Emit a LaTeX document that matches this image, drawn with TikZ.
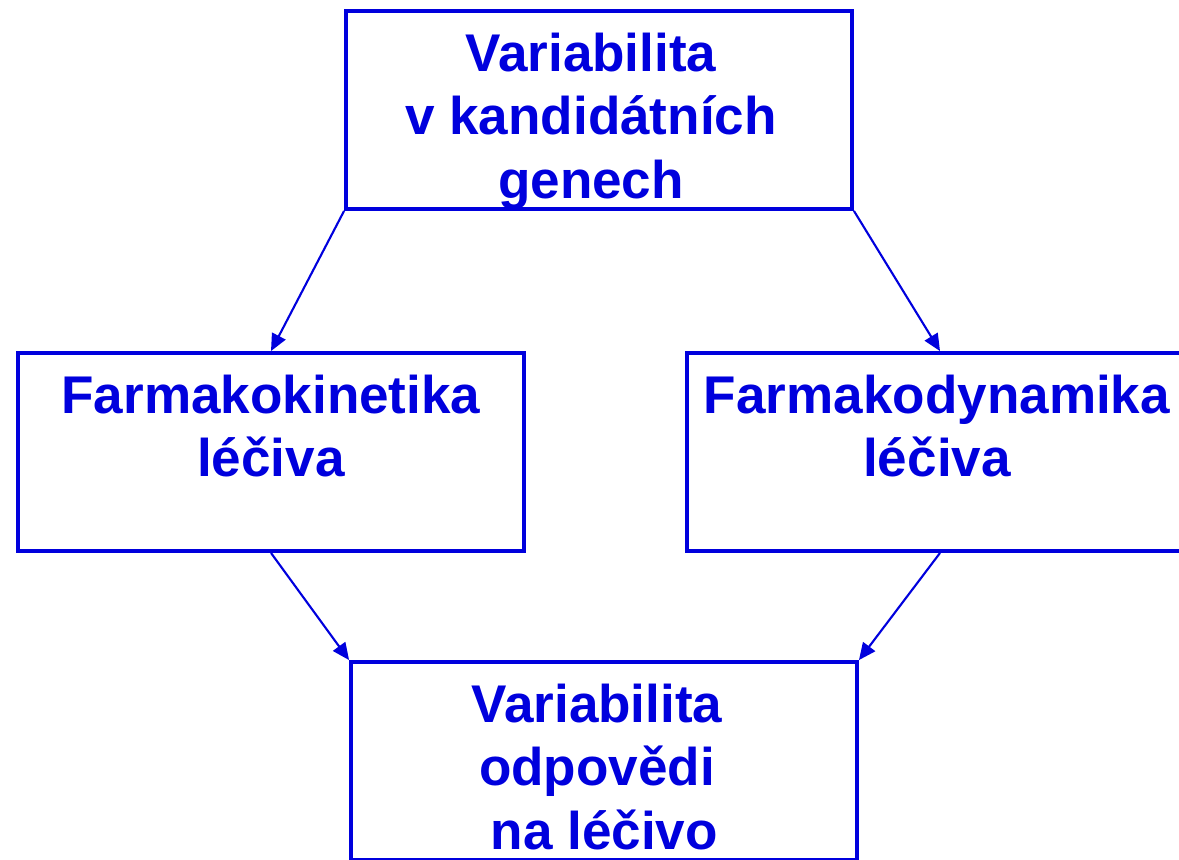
\documentclass[tikz,border=0pt]{standalone}
\usepackage{fontspec}
\setmainfont{Liberation Sans}
\usetikzlibrary{arrows.meta}
\definecolor{schemablue}{RGB}{0,0,221}

\begin{document}
\begin{tikzpicture}
	[
		box/.style = {shape=rectangle, draw=schemablue, line width=1.1pt, minimum width=5.06cm, minimum height=1.98cm, anchor=center},
		boxtext/.style = {anchor=north, inner sep=0pt, align=center, text=schemablue, font=\bfseries\fontsize{15.1}{18.1}\selectfont, yshift=-0.23cm},
		link/.style = {draw=schemablue, line width=0.6pt, -{Triangle[length=0.17cm, width=0.15cm]}}
	]
	
	\useasboundingbox (0,0) rectangle (11.79,8.59);
	
	\node [box] (geny) at (5.99, 7.49) {};
	\node [boxtext, xshift=-0.08cm] (genyText) at (geny.north) {Variabilita\\v kandidátních\\genech};
	
	\node [box] (kinetika) at (2.71, 4.07) {};
	\node [boxtext] (kinetikaText) at (kinetika.north) {Farmakokinetika\\léčiva};
	
	\node [box] (dynamika) at (9.40, 4.07) {};
	\node [boxtext, xshift=-0.03cm] (dynamikaText) at (dynamika.north) {Farmakodynamika\\léčiva};
	
	\node [box] (odpoved) at (6.04, 0.98) {};
	\node [boxtext, xshift=-0.07cm] (odpovedText) at (odpoved.north) {Variabilita\\odpovědi\\\ na léčivo};
	
	\draw [link] (geny.south west) -- (kinetika.north);
	\draw [link] (geny.south east) -- (dynamika.north);
	\draw [link] (kinetika.south) -- (odpoved.north west);
	\draw [link] (dynamika.south) -- (odpoved.north east);
	
\end{tikzpicture}
\end{document}
